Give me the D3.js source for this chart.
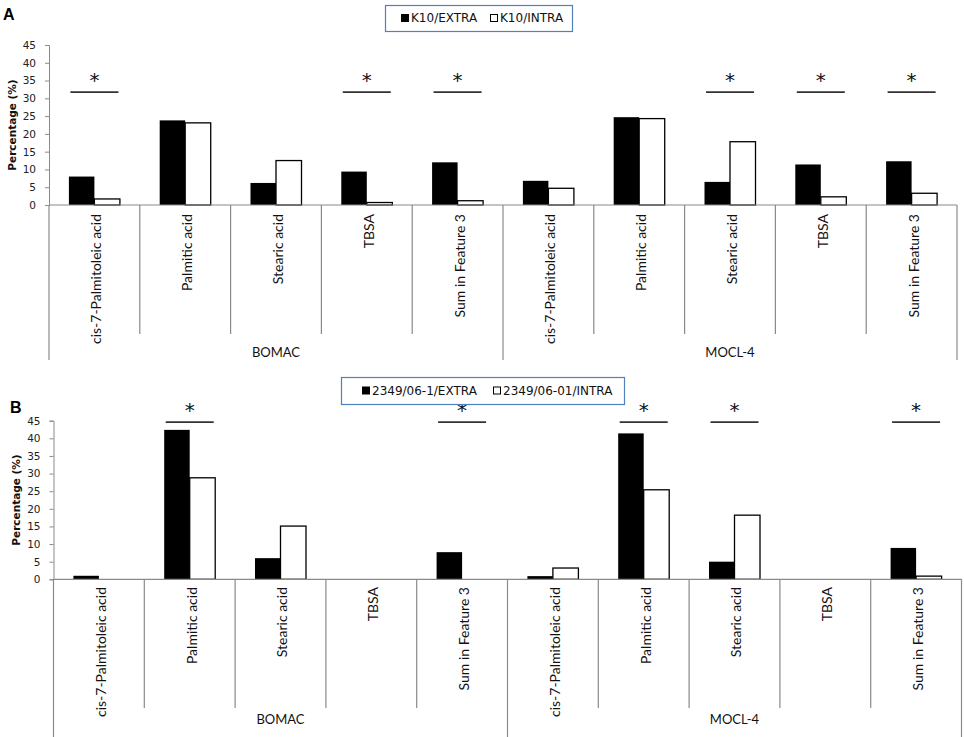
<!DOCTYPE html>
<html>
<head>
<meta charset="utf-8">
<script src="https://cdn.jsdelivr.net/npm/d3@7/dist/d3.min.js"></script>
<style>
body{margin:0;background:#fff;}
svg{display:block;}
</style>
</head>
<body>
<div id="chart"></div>
<script>
(function(){
var width = 964,
	height = 737;

// data
var categories = ["cis-7-Palmitoleic acid","Palmitic acid","Stearic acid","TBSA","Sum in Feature 3"];
var groups = ["BOMAC","MOCL-4"];
var y_ticks = [0,5,10,15,20,25,30,35,40,45];

var a_names = ["K10/EXTRA","K10/INTRA"];
var a_extra = [8.0, 23.8, 6.2, 9.4, 12.0, 6.8, 24.7, 6.5, 11.4, 12.3];
var a_intra = [1.7, 23.1, 12.5, 0.7, 1.2, 4.7, 24.3, 17.8, 2.3, 3.3];
var a_sig = [0, 3, 4, 7, 8, 9];

var b_names = ["2349/06-1/EXTRA","2349/06-01/INTRA"];
var b_extra = [1.0, 42.4, 6.0, 0, 7.7, 0.9, 41.4, 5.0, 0, 8.9];
var b_intra = [0, 28.8, 15.1, 0, 0, 3.2, 25.4, 18.2, 0, 0.9];
var b_sig = [1, 4, 6, 7, 9];

var keys = [];
groups.forEach(function(g){ categories.forEach(function(c){ keys.push(g+"|"+c); }); });

var axis_col = "#8a8a8a",
	tick_font = "'DejaVu Sans', Verdana, sans-serif",
	lab_font = "Lato, 'Open Sans', sans-serif";

var svg = d3.select("#chart").append("svg")
	.attr("width", width)
	.attr("height", height);

var panels = [
	{ letter:"A", lx:3, ly:20, names:a_names, extra:a_extra, intra:a_intra, sig:a_sig, sig_level:31.75,
	  left:49, right:957, y0:205, ytop:45, sep_short:334, sep_long:360, lab_top:214, group_y:357,
	  ylab_x:12, legend:{x:385, y:5, w:187, h:26, items:[401,490]} },
	{ letter:"B", lx:10, ly:413, names:b_names, extra:b_extra, intra:b_intra, sig:b_sig, sig_level:44.6,
	  left:53.5, right:961.5, y0:579.3, ytop:420.7, sep_short:708, sep_long:737, lab_top:587, group_y:724,
	  ylab_x:16, legend:{x:341, y:377, w:283, h:27, items:[362,493]} }
];

panels.forEach(drawPanel);

function drawPanel(p){
	var g = svg.append("g");

	var X = d3.scaleBand().domain(keys).range([p.left, p.right]).paddingInner(0).paddingOuter(0);
	var S = d3.scaleBand().domain(["extra","intra"]).range([0, X.bandwidth()]).paddingInner(0).paddingOuter(0.78);
	var Y = d3.scaleLinear().domain([0,45]).range([p.y0, p.ytop]);

	// y axis
	var yAxis = d3.axisLeft(Y).tickValues(y_ticks).tickSize(4).tickPadding(9);
	var ya = g.append("g")
		.attr("transform","translate("+p.left+",0)")
		.call(yAxis);
	ya.selectAll("path, line").attr("stroke", axis_col);
	ya.selectAll("text").attr("font-family", tick_font).attr("font-size", 10.5).attr("fill","#222");

	g.append("text")
		.attr("transform","translate("+p.ylab_x+","+((p.y0+p.ytop)/2)+") rotate(-90)")
		.attr("text-anchor","middle")
		.attr("dy","0.35em")
		.attr("font-family", tick_font)
		.attr("font-size", 10.5)
		.attr("font-weight","bold")
		.attr("fill","#111")
		.text("Percentage (%)");

	g.append("text")
		.attr("x", p.lx).attr("y", p.ly)
		.attr("font-family","'Liberation Sans', Arial, sans-serif")
		.attr("font-size", 16)
		.attr("font-weight","bold")
		.text(p.letter);

	// bars
	var rows = [];
	keys.forEach(function(k,i){
		rows.push({key:k, s:"extra", v:p.extra[i]});
		rows.push({key:k, s:"intra", v:p.intra[i]});
	});
	g.selectAll(".bar").data(rows.filter(function(d){ return d.v > 0; })).enter().append("rect")
		.attr("class","bar")
		.attr("x", function(d){ return X(d.key) + S(d.s); })
		.attr("y", function(d){ return Y(d.v); })
		.attr("width", S.bandwidth())
		.attr("height", function(d){ return Y(0) - Y(d.v); })
		.attr("fill", function(d){ return d.s == "extra" ? "#000" : "#fff"; })
		.attr("stroke", "#000")
		.attr("stroke-width", function(d){ return d.s == "extra" ? 0 : 1.3; });

	// x axis line + category separators
	g.append("line")
		.attr("x1", p.left).attr("x2", p.right)
		.attr("y1", Y(0)).attr("y2", Y(0))
		.attr("stroke", axis_col).attr("stroke-width", 1.2);

	var seps = d3.range(keys.length + 1);
	g.selectAll(".sep").data(seps).enter().append("line")
		.attr("class","sep")
		.attr("x1", function(i){ return p.left + i*X.step(); })
		.attr("x2", function(i){ return p.left + i*X.step(); })
		.attr("y1", Y(0))
		.attr("y2", function(i){ return i % categories.length == 0 ? p.sep_long : p.sep_short; })
		.attr("stroke", axis_col).attr("stroke-width", 1.2);

	g.selectAll(".clab").data(keys).enter().append("text")
		.attr("class","clab")
		.attr("transform", function(k){ return "translate("+(X(k)+X.bandwidth()/2+2)+","+p.lab_top+") rotate(-90)"; })
		.attr("text-anchor","end")
		.attr("dy","0.35em")
		.attr("font-family", lab_font)
		.attr("font-size", 14)
		.attr("fill","#111")
		.text(function(k){ return k.split("|")[1]; });

	g.selectAll(".glab").data(groups).enter().append("text")
		.attr("class","glab")
		.attr("x", function(gr,i){ return p.left + (i + 0.5)*categories.length*X.step(); })
		.attr("y", p.group_y)
		.attr("text-anchor","middle")
		.attr("font-family", lab_font)
		.attr("font-size", 13)
		.attr("fill","#111")
		.text(function(gr){ return gr; });

	// significance marks
	var sg = g.selectAll(".sig").data(p.sig).enter().append("g")
		.attr("class","sig")
		.attr("transform", function(i){ return "translate("+(X(keys[i])+X.bandwidth()/2)+","+Y(p.sig_level)+")"; });
	sg.append("line")
		.attr("x1",-24).attr("x2",24)
		.attr("stroke","#333").attr("stroke-width",1.6);
	sg.append("text")
		.attr("y",-5)
		.attr("text-anchor","middle")
		.attr("font-family", tick_font)
		.attr("font-size", 20)
		.attr("fill","#111")
		.text("*");

	// legend
	var L = p.legend;
	var lg = g.append("g");
	lg.append("rect")
		.attr("x", L.x + 0.5).attr("y", L.y + 0.5)
		.attr("width", L.w).attr("height", L.h)
		.attr("fill","#fff")
		.attr("stroke","#4f81bd").attr("stroke-width",1.2);
	var it = lg.selectAll(".li").data(p.names).enter().append("g")
		.attr("class","li")
		.attr("transform", function(d,i){ return "translate("+L.items[i]+","+(L.y + L.h/2)+")"; });
	it.append("rect")
		.attr("x",0.5).attr("y",-3.5)
		.attr("width",7).attr("height",7)
		.attr("fill", function(d,i){ return i == 0 ? "#000" : "#fff"; })
		.attr("stroke","#000").attr("stroke-width",1);
	it.append("text")
		.attr("x",10)
		.attr("dy","0.36em")
		.attr("font-family", tick_font)
		.attr("font-size", 12)
		.attr("fill","#111")
		.text(function(d){ return d; });
}

})()
</script>
</body>
</html>
